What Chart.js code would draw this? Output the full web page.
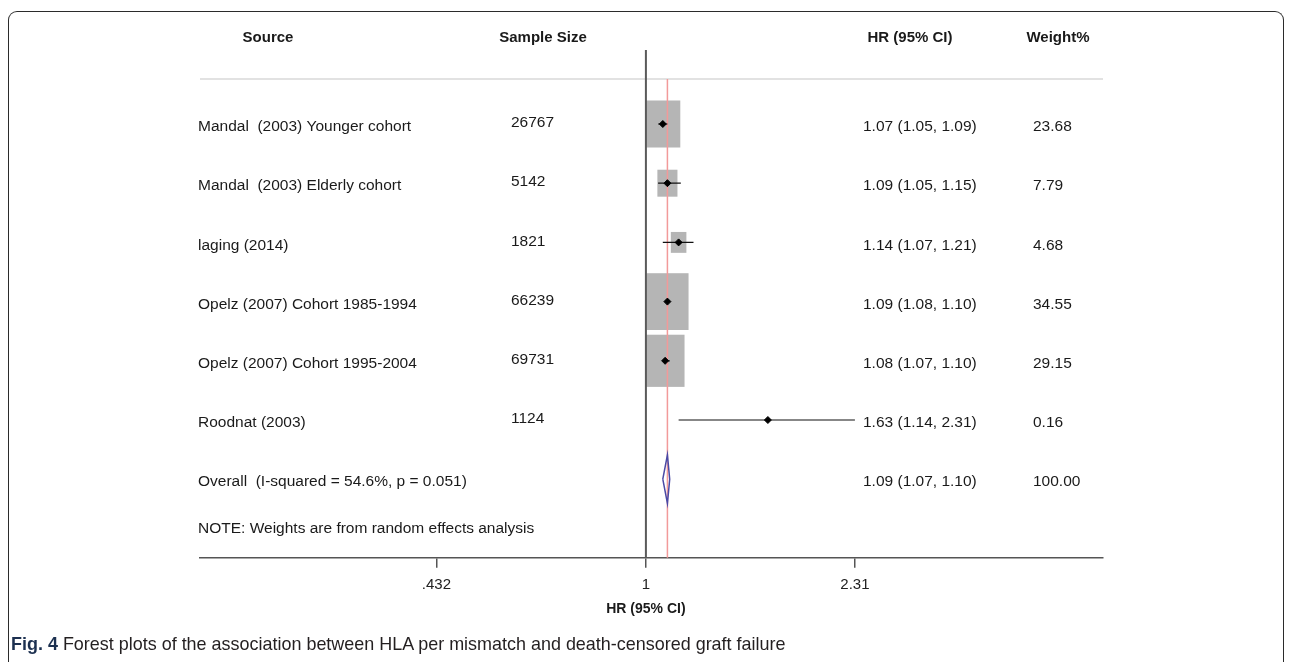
<!DOCTYPE html>
<html><head><meta charset="utf-8">
<script src="https://cdn.jsdelivr.net/npm/chart.js@4.4.1/dist/chart.umd.min.js"></script>
<style>
html,body{margin:0;padding:0;background:#fff;width:1292px;height:662px;overflow:hidden;}
#frame{position:absolute;left:8px;top:11px;width:1276px;height:700px;border:1.5px solid #2b2b2b;border-bottom:none;border-radius:9px 9px 0 0;box-sizing:border-box;}
#c{position:absolute;left:0;top:0;}
#cap{position:absolute;left:11px;top:633px;font-family:"Liberation Sans",Arial,sans-serif;font-size:19px;color:#231f20;white-space:nowrap;transform:scaleX(0.945);transform-origin:0 0;}
#cap b{color:#1c3050;}
</style></head><body>
<div id="frame"></div>
<canvas id="c" width="1292" height="662"></canvas>
<div id="cap"><b>Fig. 4</b> Forest plots of the association between HLA per mismatch and death-censored graft failure</div>
<script>
// ---- data ----
const studies = [
  'Mandal  (2003) Younger cohort',
  'Mandal  (2003) Elderly cohort',
  'laging (2014)',
  'Opelz (2007) Cohort 1985-1994',
  'Opelz (2007) Cohort 1995-2004',
  'Roodnat (2003)'
];
const sampleSizes = ['26767', '5142', '1821', '66239', '69731', '1124'];
const hr     = [1.07, 1.09, 1.14, 1.09, 1.08, 1.63];
const lower  = [1.05, 1.05, 1.07, 1.08, 1.07, 1.14];
const upper  = [1.09, 1.15, 1.21, 1.10, 1.10, 2.31];
const weights = [23.68, 7.79, 4.68, 34.55, 29.15, 0.16];
const overallLabel = 'Overall  (I-squared = 54.6%, p = 0.051)';
const overallHR = 1.09, overallLower = 1.07, overallUpper = 1.10, overallWeight = 100.00;
const noteText = 'NOTE: Weights are from random effects analysis';
const headers = ['Source', 'Sample Size', 'HR (95% CI)', 'Weight%'];
const tickValues = [0.432, 1, 2.31];
const tickLabels = ['.432', '1', '2.31'];
const axisTitle = 'HR (95% CI)';

// ---- styling / layout ----
const FONT = '"Liberation Sans", Arial, sans-serif';
const overallRow = studies.length;
const noteRow = overallRow + 0.83;
const sepRow = -0.76;
const diamondHalf = 0.41;
const fmt = v => v.toFixed(2);

const ciDatasets = studies.map((s, i) => ({
  type: 'line',
  data: [{x: lower[i], y: i}, {x: upper[i], y: i}],
  borderColor: '#111', borderWidth: 1.2, pointRadius: 0, fill: false, order: 2
}));

const forestPlugin = {
  id: 'forest',
  beforeDatasetsDraw(chart) {
    const {ctx, chartArea, scales: {x, y}} = chart;
    ctx.save();
    // weight boxes
    ctx.fillStyle = '#b5b5b5';
    weights.forEach((w, i) => {
      const cx = x.getPixelForValue(hr[i]), cy = y.getPixelForValue(i);
      const bw = 7.19 * Math.sqrt(w), bh = 9.66 * Math.sqrt(w);
      ctx.fillRect(cx - bw / 2, cy - bh / 2, bw, bh);
    });
    // separator
    const sy = y.getPixelForValue(sepRow);
    ctx.strokeStyle = '#d9d9d9'; ctx.lineWidth = 1.5;
    ctx.beginPath(); ctx.moveTo(chartArea.left, sy); ctx.lineTo(chartArea.right, sy); ctx.stroke();
    // null line at 1
    const x1 = x.getPixelForValue(1);
    ctx.strokeStyle = '#5a5a5a'; ctx.lineWidth = 2;
    ctx.beginPath(); ctx.moveTo(x1, chartArea.top); ctx.lineTo(x1, chartArea.bottom); ctx.stroke();
    // overall effect line
    const xo = x.getPixelForValue(overallHR);
    ctx.strokeStyle = '#f29a9a'; ctx.lineWidth = 1.5;
    ctx.beginPath(); ctx.moveTo(xo, sy); ctx.lineTo(xo, chartArea.bottom); ctx.stroke();
    ctx.restore();
  },
  afterDraw(chart) {
    const {ctx, chartArea, scales: {x, y}} = chart;
    ctx.save();
    ctx.fillStyle = '#1a1a1a';
    ctx.textBaseline = 'middle';
    // headers
    ctx.font = 'bold 15px ' + FONT;
    ctx.textAlign = 'center';
    const hx = [268, 543, 910, 1058];
    headers.forEach((h, i) => ctx.fillText(h, hx[i], 38));
    // axis title
    ctx.font = 'bold 14px ' + FONT;
    ctx.fillText(axisTitle, x.getPixelForValue(1), chartArea.bottom + 51);
    // rows
    ctx.font = '15.5px ' + FONT;
    ctx.textAlign = 'left';
    studies.forEach((s, i) => {
      const cy = y.getPixelForValue(i);
      ctx.fillText(s, 198, cy + 3);
      ctx.fillText(sampleSizes[i], 511, cy - 1);
      ctx.fillText(`${fmt(hr[i])} (${fmt(lower[i])}, ${fmt(upper[i])})`, 863, cy + 3);
      ctx.fillText(fmt(weights[i]), 1033, cy + 3);
    });
    const oy = y.getPixelForValue(overallRow);
    ctx.fillText(overallLabel, 198, oy + 3);
    ctx.fillText(`${fmt(overallHR)} (${fmt(overallLower)}, ${fmt(overallUpper)})`, 863, oy + 3);
    ctx.fillText(fmt(overallWeight), 1033, oy + 3);
    ctx.fillText(noteText, 198, y.getPixelForValue(noteRow));
    ctx.restore();
  }
};

new Chart(document.getElementById('c'), {
  data: {
    datasets: [
      ...ciDatasets,
      {
        type: 'scatter',
        data: hr.map((v, i) => ({x: v, y: i})),
        pointStyle: 'rectRot', pointRadius: 3.5, backgroundColor: '#000', borderColor: '#000', order: 1
      },
      {
        type: 'line',
        data: [
          {x: overallLower, y: overallRow}, {x: overallHR, y: overallRow - diamondHalf},
          {x: overallUpper, y: overallRow}, {x: overallHR, y: overallRow + diamondHalf},
          {x: overallLower, y: overallRow}
        ],
        borderColor: '#4a4aa6', borderWidth: 1.5, pointRadius: 0, fill: false, tension: 0, order: 0
      }
    ]
  },
  options: {
    responsive: false, animation: false, devicePixelRatio: 1,
    layout: {padding: {left: 200, right: 189, top: 50, bottom: 0}},
    plugins: {legend: {display: false}, tooltip: {enabled: false}},
    scales: {
      x: {
        type: 'logarithmic', min: 0.1676, max: 6.24,
        afterBuildTicks: s => { s.ticks = tickValues.map(v => ({value: v})); },
        afterFit: s => { s.height = 104.3; },
        ticks: {
          autoSkip: false, maxRotation: 0, padding: 8, color: '#222',
          font: {family: FONT, size: 15},
          callback: (v, i) => tickLabels[i]
        },
        grid: {display: true, drawOnChartArea: false, drawTicks: true, tickLength: 10, color: '#555', lineWidth: 1.5},
        border: {display: true, color: '#555', width: 1.5},
        title: {display: false, text: axisTitle}
      },
      y: {
        type: 'linear', min: -1.25, max: 7.326, reverse: true, display: false
      }
    }
  },
  plugins: [forestPlugin]
});
</script>
</body></html>
